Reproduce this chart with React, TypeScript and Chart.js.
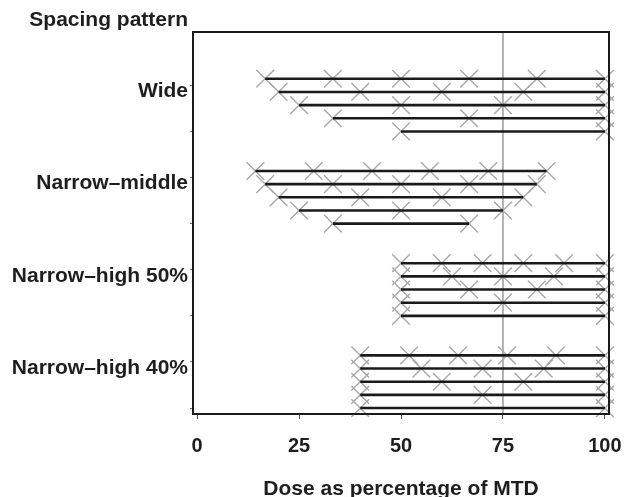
import React, { useEffect, useRef } from 'react';
import { Chart, registerables } from 'chart.js';

Chart.register(...registerables);

// ---- data ----
const groupLabels = ['Wide', 'Narrow–middle', 'Narrow–high 50%', 'Narrow–high 40%'];

const wideDoses = [
  [16.7, 33.3, 50, 66.7, 83.3, 100],
  [20, 40, 60, 80, 100],
  [25, 50, 75, 100],
  [33.3, 66.7, 100],
  [50, 100],
];
const narrowMiddleDoses = [
  [14.3, 28.6, 42.9, 57.1, 71.4, 85.7],
  [16.7, 33.3, 50, 66.7, 83.3],
  [20, 40, 60, 80],
  [25, 50, 75],
  [33.3, 66.7],
];
const narrowHigh50Doses = [
  [50, 60, 70, 80, 90, 100],
  [50, 62.5, 75, 87.5, 100],
  [50, 66.7, 83.3, 100],
  [50, 75, 100],
  [50, 100],
];
const narrowHigh40Doses = [
  [40, 52, 64, 76, 88, 100],
  [40, 55, 70, 85, 100],
  [40, 60, 80, 100],
  [40, 70, 100],
  [40, 100],
];

const xTickValues = [0, 25, 50, 75, 100];
const mtdReferenceDose = 75;
const yAxisTitle = 'Spacing pattern';
const xAxisTitle = 'Dose as percentage of MTD';

const groupDoses = [wideDoses, narrowMiddleDoses, narrowHigh50Doses, narrowHigh40Doses];
const ROWS_PER_GROUP = 7;
const Y_MIN = -3.55;
const Y_MAX = 25.45;
const yTickRows = [0.5, 4, 7.5, 11, 14.5, 18, 21.5, 25];

const FONT = "'Liberation Sans', Arial, Helvetica, sans-serif";
const TEXT = '#1e1e1e';

export default function App() {
  const ref = useRef<HTMLCanvasElement | null>(null);

  useEffect(() => {
    if (!ref.current) return;

    const lineSets: any[] = [];
    const markerSets: any[] = [];
    groupDoses.forEach((regimens, g) => {
      regimens.forEach((doses, i) => {
        const row = g * ROWS_PER_GROUP + i;
        lineSets.push({
          type: 'scatter',
          data: [
            { x: doses[0], y: row },
            { x: doses[doses.length - 1], y: row },
          ],
          showLine: true,
          borderColor: '#1a1a1a',
          borderWidth: 2.6,
          pointRadius: 0,
          pointHoverRadius: 0,
          order: 0,
          clip: false,
        });
        markerSets.push({
          type: 'scatter',
          data: doses.map((d) => ({ x: d, y: row })),
          showLine: false,
          pointStyle: 'crossRot',
          pointRadius: 12.5,
          pointHoverRadius: 12.5,
          borderColor: '#a8a8a8',
          backgroundColor: '#a8a8a8',
          borderWidth: 1.4,
          order: 1,
          clip: false,
        });
      });
    });

    const refLine = {
      type: 'scatter',
      data: [
        { x: mtdReferenceDose, y: Y_MIN },
        { x: mtdReferenceDose, y: Y_MAX },
      ],
      showLine: true,
      borderColor: '#8a8a8a',
      borderWidth: 1.3,
      pointRadius: 0,
      order: 2,
    };

    const framePlugin = {
      id: 'frameAndTitle',
      afterDraw(chart: any) {
        const { ctx, chartArea } = chart;
        ctx.save();
        ctx.strokeStyle = '#1a1a1a';
        ctx.lineWidth = 2;
        ctx.strokeRect(chartArea.left, chartArea.top, chartArea.right - chartArea.left, chartArea.bottom - chartArea.top);
        ctx.fillStyle = TEXT;
        ctx.font = `bold 21px ${FONT}`;
        ctx.textAlign = 'right';
        ctx.textBaseline = 'alphabetic';
        ctx.fillText(yAxisTitle, chartArea.left - 5, 26);
        ctx.restore();
      },
    };

    const labelForRow = (v: number) => {
      const g = groupLabels.findIndex((_, k) => Math.abs(k * ROWS_PER_GROUP + 0.5 - v) < 1e-6);
      return g >= 0 ? groupLabels[g] : '';
    };

    const chart = new Chart(ref.current, {
      type: 'scatter',
      data: { datasets: [...lineSets, ...markerSets, refLine] as any },
      plugins: [framePlugin],
      options: {
        animation: false,
        responsive: false,
        maintainAspectRatio: false,
        layout: { padding: { top: 32, right: 15, left: 0, bottom: 0 } },
        plugins: {
          legend: { display: false },
          tooltip: { enabled: false },
        },
        scales: {
          x: {
            type: 'linear',
            min: -1,
            max: 101,
            afterBuildTicks: (s: any) => {
              s.ticks = xTickValues.map((v) => ({ value: v }));
            },
            afterFit: (s: any) => {
              s.height = 83;
              s.paddingLeft = 0;
              s.paddingRight = 0;
            },
            ticks: {
              font: { family: FONT, weight: 'bold', size: 20 },
              color: TEXT,
              padding: 15,
              autoSkip: false,
              maxRotation: 0,
            },
            grid: { display: true, drawOnChartArea: false, tickLength: 5, color: '#555', lineWidth: 1 },
            border: { display: false },
            title: {
              display: true,
              text: xAxisTitle,
              color: TEXT,
              font: { family: FONT, weight: 'bold', size: 21, lineHeight: 0.7 },
              padding: { top: 0, bottom: 0 },
            },
          },
          y: {
            type: 'linear',
            reverse: true,
            min: Y_MIN,
            max: Y_MAX,
            afterBuildTicks: (s: any) => {
              s.ticks = yTickRows.map((v) => ({ value: v }));
            },
            afterFit: (s: any) => {
              s.width = 193;
              s.paddingTop = 0;
              s.paddingBottom = 0;
            },
            ticks: {
              font: { family: FONT, weight: 'bold', size: 21 },
              color: TEXT,
              padding: 2,
              labelOffset: 6,
              autoSkip: false,
              callback: (v: any) => labelForRow(Number(v)),
            },
            grid: { display: true, drawOnChartArea: false, tickLength: 3, color: '#777', lineWidth: 1 },
            border: { display: false },
          },
        },
      } as any,
    });

    return () => chart.destroy();
  }, []);

  return (
    <div style={{ position: 'fixed', left: 0, top: 0, width: 624, height: 497, background: '#fff' }}>
      <canvas ref={ref} width={624} height={497} style={{ display: 'block', width: 624, height: 497 }} />
    </div>
  );
}
